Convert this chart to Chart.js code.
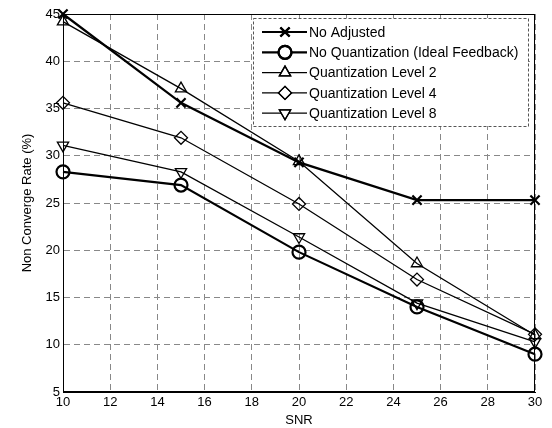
<!DOCTYPE html>
<html>
<head>
<meta charset="utf-8">
<script src="https://cdn.jsdelivr.net/npm/chart.js@4"></script>
<style>
  html, body { margin: 0; padding: 0; background: #fff; }
  #wrap { width: 552px; height: 428px; }
</style>
</head>
<body>
<div id="wrap"><canvas id="c" width="552" height="428"></canvas></div>
<script>
// data
const snr = [10, 15, 20, 25, 30];
const noAdjusted = [45, 35.6, 29.3, 25.3, 25.3];
const noQuant = [28.3, 26.9, 19.8, 14.0, 9.0];
const quant2 = [44.2, 37.1, 29.4, 18.6, 11.0];
const quant4 = [35.6, 31.9, 24.9, 16.9, 11.1];
const quant8 = [31.1, 28.3, 21.4, 14.4, 10.3];
const xTicks = [10, 12, 14, 16, 18, 20, 22, 24, 26, 28, 30];
const yTicks = [5, 10, 15, 20, 25, 30, 35, 40, 45];

const FONT = 'Liberation Sans, Arial, Helvetica, sans-serif';

function ds(label, data, style, width, rot) {
  return {
    label: label,
    data: data.map((v, i) => ({x: snr[i], y: v})),
    borderColor: '#000',
    borderWidth: width,
    pointStyle: style,
    pointRotation: rot || 0,
    pointRadius: 6.5,
    pointBorderWidth: width,
    pointBorderColor: '#000',
    pointBackgroundColor: 'transparent',
    tension: 0
  };
}

// legend drawn inside the axes, matlab style
const legendBox = {
  id: 'legendBox',
  afterDraw(chart) {
    const ctx = chart.ctx;
    ctx.save();
    ctx.fillStyle = '#fff';
    ctx.fillRect(253, 18, 275, 108);
    ctx.strokeStyle = '#555';
    ctx.lineWidth = 1;
    ctx.setLineDash([3, 2]);
    ctx.strokeRect(253.5, 18.5, 275, 108);
    ctx.setLineDash([]);
    ctx.font = '14px ' + FONT;
    ctx.textBaseline = 'middle';
    chart.data.datasets.forEach((d, i) => {
      const y = 32 + i * 20.3;
      ctx.strokeStyle = '#000';
      ctx.lineWidth = d.borderWidth;
      ctx.beginPath();
      ctx.moveTo(262, y);
      ctx.lineTo(307, y);
      ctx.stroke();
      ctx.fillStyle = '#fff';
      Chart.helpers.drawPoint(ctx, {
        pointStyle: d.pointStyle, rotation: d.pointRotation,
        radius: 6.5, borderWidth: d.borderWidth
      }, 285, y);
      ctx.stroke();
      ctx.fillStyle = '#000';
      ctx.fillText(d.label, 309, y + 1);
    });
    ctx.restore();
  }
};

const frame = {
  id: 'frame',
  afterDatasetsDraw(chart) {
    const a = chart.chartArea, ctx = chart.ctx;
    ctx.save();
    ctx.strokeStyle = '#000';
    ctx.lineWidth = 1;
    ctx.strokeRect(a.left + 0.5, a.top + 0.5, a.right - a.left - 1, a.bottom - a.top - 1);
    ctx.restore();
  }
};

new Chart(document.getElementById('c'), {
  type: 'line',
  data: {
    datasets: [
      ds('No Adjusted', noAdjusted, 'crossRot', 2.2),
      ds('No Quantization (Ideal Feedback)', noQuant, 'circle', 2.2),
      ds('Quantization Level 2', quant2, 'triangle', 1.3),
      ds('Quantization Level 4', quant4, 'rectRot', 1.3),
      ds('Quantization Level 8', quant8, 'triangle', 1.3, 180)
    ]
  },
  options: {
    responsive: false,
    animation: false,
    clip: false,
    layout: { padding: { left: 0, right: 17, top: 14, bottom: 0 } },
    plugins: { legend: { display: false }, tooltip: { enabled: false } },
    scales: {
      x: {
        type: 'linear', min: 10, max: 30,
        afterFit(s) { s.height = 36; },
        afterBuildTicks(s) { s.ticks = xTicks.map(v => ({value: v})); },
        ticks: { color: '#000', font: { family: FONT, size: 13 }, padding: 3, maxRotation: 0 },
        grid: { color: '#888', lineWidth: 1, drawTicks: false, borderDash: [6, 4] },
        border: { display: true, color: '#000', dash: [6, 4] },
        title: { display: true, text: 'SNR', color: '#000', font: { family: FONT, size: 13 }, padding: { top: 0, bottom: 0 } }
      },
      y: {
        type: 'linear', min: 5, max: 45,
        afterFit(s) { s.width = 63; },
        afterBuildTicks(s) { s.ticks = yTicks.map(v => ({value: v})); },
        ticks: { color: '#000', font: { family: FONT, size: 13 }, padding: 3 },
        grid: { color: '#888', lineWidth: 1, drawTicks: false, borderDash: [6, 4] },
        border: { display: true, color: '#000', dash: [6, 4] },
        title: { display: true, text: 'Non Converge Rate (%)', color: '#000', font: { family: FONT, size: 13 }, padding: { top: 20, bottom: 0 } }
      }
    }
  },
  plugins: [frame, legendBox]
});
</script>
</body>
</html>
